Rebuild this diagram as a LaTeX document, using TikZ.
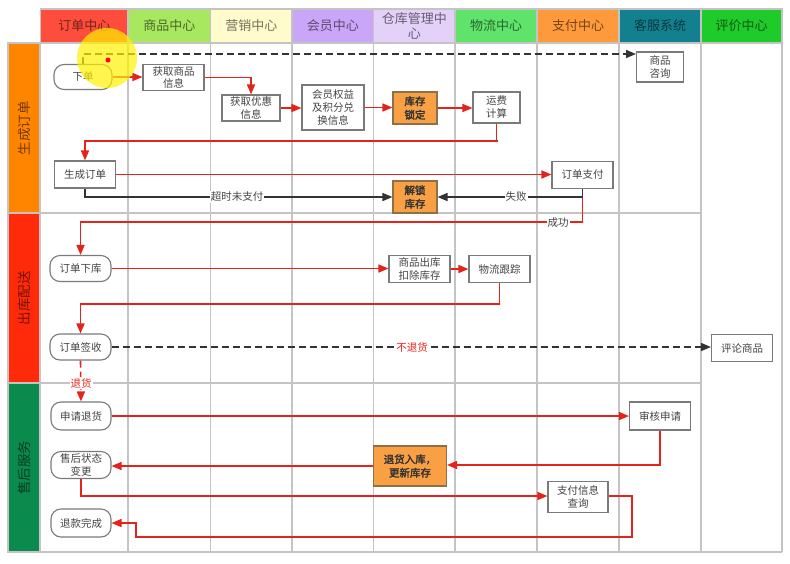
\documentclass[tikz,border=0pt]{standalone}
\usepackage{fontspec}
\newfontfamily\cjk{Noto Sans CJK SC}
\newfontfamily\cjkb[FakeBold=2.5]{Noto Sans CJK SC}
\usetikzlibrary{arrows.meta,calc}
\definecolor{gridc}{HTML}{C4C4C4}
\definecolor{boxc}{HTML}{7A7A7A}
\definecolor{txtc}{HTML}{444444}
\definecolor{redl}{HTML}{E3241B}
\definecolor{blkl}{HTML}{333333}
\definecolor{obox}{HTML}{F9A044}
\definecolor{oboxd}{HTML}{8E7048}
\definecolor{hA}{HTML}{FF4D3D}
\definecolor{hB}{HTML}{A8E860}
\definecolor{hC}{HTML}{FFFBCC}
\definecolor{hD}{HTML}{C9A6F7}
\definecolor{hE}{HTML}{E4D1FA}
\definecolor{hF}{HTML}{5FE36B}
\definecolor{hG}{HTML}{FF9A3C}
\definecolor{hH}{HTML}{13808F}
\definecolor{hI}{HTML}{1FCB2A}
\definecolor{lA}{HTML}{FF8400}
\definecolor{lB}{HTML}{FF2A0A}
\definecolor{lC}{HTML}{0A8A4C}
\begin{document}
\begin{tikzpicture}[x=1pt,y=-1pt,
  gridline/.style={draw=gridc,line width=1.5pt},
  hcell/.style={fill=#1,draw=gridc,line width=1.5pt,text=#1!45!black,
    font=\cjk\fontsize{13}{14.5}\selectfont,align=center,inner sep=0pt},
  lcell/.style={fill=#1,draw=gridc,line width=1.5pt,text=#1!45!black,
    font=\cjk\fontsize{13.5}{15}\selectfont,inner sep=0pt},
  box/.style={draw=boxc,line width=1.1pt,fill=white,text=txtc,align=center,
    font=\cjk\fontsize{10.5}{13}\selectfont,inner sep=1pt},
  rbox/.style={box,rounded corners=10pt},
  orbox/.style={box,fill=obox,draw=oboxd,text=black!80,font=\cjkb\fontsize{10.5}{13.5}\selectfont},
  sz/.style 2 args={minimum width=#1pt,minimum height=#2pt},
  rarr/.style={draw=redl,line width=1.6pt,-{Triangle[length=10pt,width=8pt]}},
  barr/.style={draw=blkl,line width=1.6pt,-{Triangle[length=10pt,width=8pt]}},
  dashpat/.style={dash pattern=on 7pt off 4pt},
  lbl/.style={fill=white,inner sep=1pt,text=txtc,font=\cjk\fontsize{10.5}{12}\selectfont},
  rlbl/.style={lbl,text=redl}
]
\useasboundingbox (0,0) rectangle (790,563);
\fill[white] (0,0) rectangle (790,563);

% header cells
\node[hcell=hA,minimum width=87.3pt,minimum height=34pt] (hd1) at (84.35,26) {订单中心};
\node[hcell=hB,minimum width=82.5pt,minimum height=34pt] (hd2) at (169.25,26) {商品中心};
\node[hcell=hC,minimum width=81.5pt,minimum height=34pt] (hd3) at (251.25,26) {营销中心};
\node[hcell=hD,minimum width=81.5pt,minimum height=34pt] (hd4) at (332.75,26) {会员中心};
\node[hcell=hE,minimum width=81.5pt,minimum height=34pt] (hd5) at (414.25,26) {仓库管理中\\心};
\node[hcell=hF,minimum width=82pt,minimum height=34pt] (hd6) at (496,26) {物流中心};
\node[hcell=hG,minimum width=82pt,minimum height=34pt] (hd7) at (578,26) {支付中心};
\node[hcell=hH,minimum width=82pt,minimum height=34pt] (hd8) at (660,26) {客服系统};
\node[hcell=hI,minimum width=81pt,minimum height=34pt] (hd9) at (741.5,26) {评价中心};

% lane cells
\node[lcell=lA,minimum width=32pt,minimum height=170pt] (ln1) at (24,128) {\rotatebox{90}{生成订单}};
\node[lcell=lB,minimum width=32pt,minimum height=170pt] (ln2) at (24,298) {\rotatebox{90}{出库配送}};
\node[lcell=lC,minimum width=32pt,minimum height=169pt] (ln3) at (24,467.5) {\rotatebox{90}{售后服务}};

% grid
\foreach \x in {128,210.5,292,373.5,455,537,619,701}{
  \draw[gridline] (\x,43) -- (\x,552);
}
\draw[gridline] (40,43) -- (782,43);
\draw[gridline] (40,43) -- (40,552);
\draw[gridline] (782,43) -- (782,552);
\draw[gridline] (40,213) -- (701,213);
\draw[gridline] (40,383) -- (701,383);
\draw[gridline] (8,552) -- (782,552);

% nodes
\node[rbox,sz={58}{25}] (xd) at (83,77) {下单};
\node[box,sz={61}{26}] (hq) at (173.5,77.5) {获取商品\\信息};
\node[box,sz={58}{26}] (yh) at (251,108) {获取优惠\\信息};
\node[box,sz={62}{45}] (hy) at (333,107.5) {会员权益\\及积分兑\\换信息};
\node[orbox,sz={44}{32}] (sd) at (415,108) {库存\\锁定};
\node[box,sz={47}{31}] (yf) at (496.5,107.5) {运费\\计算};
\node[box,sz={47}{30}] (zx) at (660,67) {商品\\咨询};
\node[box,sz={61}{27}] (sc) at (85,174.5) {生成订单};
\node[box,sz={61}{27}] (zf) at (582.5,175) {订单支付};
\node[orbox,sz={44}{32}] (js) at (415,197) {解锁\\库存};
\node[rbox,sz={61}{26}] (xk) at (80.5,268.5) {订单下库};
\node[box,sz={61}{27}] (ck) at (419.5,269) {商品出库\\扣除库存};
\node[box,sz={61}{27}] (wl) at (499.5,269) {物流跟踪};
\node[rbox,sz={61}{26}] (qs) at (80.5,347) {订单签收};
\node[box,sz={61}{27}] (pl) at (742,348) {评论商品};
\node[rbox,sz={60}{28}] (sq) at (81,416) {申请退货};
\node[box,sz={61}{28}] (sh) at (660,416) {审核申请};
\node[orbox,sz={73}{40}] (rk) at (410,466) {退货入库，\\更新库存};
\node[rbox,sz={60}{27}] (bg) at (81,465) {售后状态\\变更};
\node[box,sz={60}{31}] (zc) at (578,497) {支付信息\\查询};
\node[rbox,sz={60}{28}] (tk) at (81,523) {退款完成};

% coordinates
\coordinate (zxin) at (636,54);
\coordinate (c1) at (498,141);
\coordinate (c2) at (583,222);
\coordinate (c3) at (500,304);
\coordinate (c4) at (660,465);
\coordinate (c5) at (632,496);
\coordinate (c6) at (632,537);
\coordinate (c7) at (136,537);
\coordinate (c8) at (136,523);

% connectors
\draw[barr,dashpat] (xd.north) |- (zxin);
\draw[rarr] (xd.east) -- (hq.west |- xd.east);
\draw[rarr] (hq.east) -| (yh.north);
\draw[rarr] (yh.east) -- (yh.east -| hy.west);
\draw[rarr] (hy.east) -- (hy.east -| sd.west);
\draw[rarr] (sd.east) -- (sd.east -| yf.west);
\draw[rarr] (yf.south) |- (c1) -| (sc.north);
\draw[rarr] (sc.east) -- (sc.east -| zf.west);
\draw[rarr] (zf.south) |- (c2) -| (xk.north);
\draw[barr] (sc.south) |- (js.west);
\draw[barr] (zf.south) |- (js.east);
\draw[rarr] (xk.east) -- (xk.east -| ck.west);
\draw[rarr] (ck.east) -- (ck.east -| wl.west);
\draw[rarr] (wl.south) |- (c3) -| (qs.north);
\draw[barr,dashpat] (qs.east) -- (qs.east -| pl.west);
\draw[rarr,dashpat] (qs.south) -- (sq.north);
\draw[rarr] (sq.east) -- (sq.east -| sh.west);
\draw[rarr] (sh.south) -- (c4) -- (c4 -| rk.east);
\draw[rarr] (rk.west) -- (rk.west -| bg.east);
\draw[rarr] (bg.south) |- (bg.south |- c5) -- (c5 -| zc.west);
\draw[rarr] (zc.east |- c5) -- (c5) -- (c6) -- (c7) -- (c8) -- (tk.east);

% labels
\node[lbl] (l1) at (237,197) {超时未支付};
\node[lbl] (l2) at (516,197) {失败};
\node[lbl] (l3) at (558,223) {成功};
\node[rlbl] (l4) at (412,347) {不退货};
\node[rlbl] (l5) at (81,383) {退货};

% cursor highlight
\fill[yellow,opacity=0.7] (107,58) circle (30);
\fill[red] (108,60) circle (2.5);
\end{tikzpicture}
\end{document}
